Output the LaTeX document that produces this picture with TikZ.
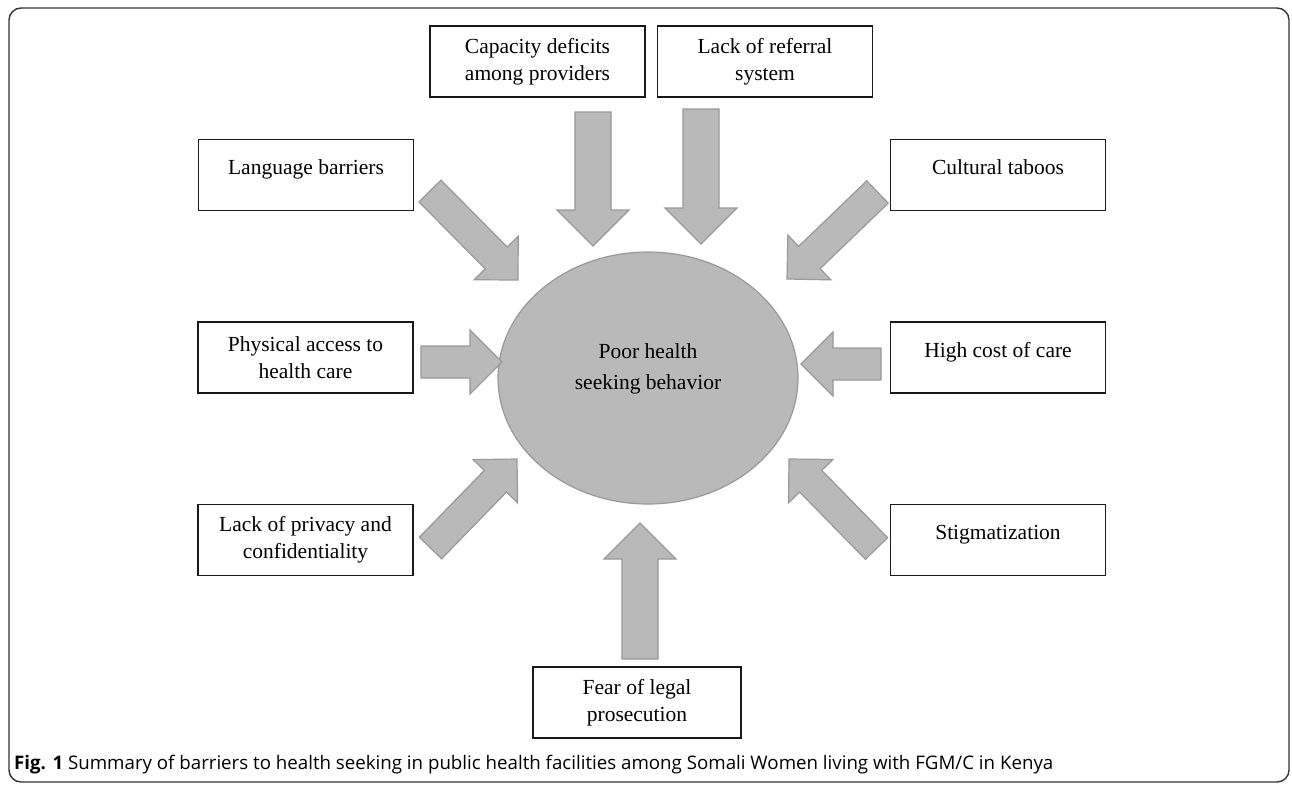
\documentclass[tikz,border=0pt]{standalone}
\usepackage{fontspec}
\setmainfont{Liberation Serif}
\newfontfamily\capfont{Open Sans}
\usetikzlibrary{calc,shapes.geometric}

\definecolor{arrowgray}{RGB}{185,185,185}
\definecolor{edgegray}{RGB}{153,153,153}

\tikzset{
  barrier/.style={draw=black!90, line width=1.5pt, fill=white, minimum width=215pt,
    minimum height=71pt, align=center, inner sep=2pt, font=\fontsize{21.5pt}{27pt}\selectfont},
  oneline/.style={text height=15pt, text depth=16pt},
  bulk/.style={fill=arrowgray, draw=edgegray, line width=1.2pt},
}

\newcommand\blockarrow[3]{%
  \coordinate (#1-s) at ($(#2)!2*#3pt!(#1)$);
  \draw[bulk] ($(#1)!#3pt!90:(#2)$) -- ($(#1-s)!#3pt!-90:(#1)$)
    -- ($(#1-s)!2*#3pt!-90:(#1)$) -- (#2)
    -- ($(#1-s)!2*#3pt!90:(#1)$) -- ($(#1-s)!#3pt!90:(#1)$)
    -- ($(#1)!#3pt!-90:(#2)$) -- cycle;
}

\begin{document}
\begin{tikzpicture}[x=1pt,y=-1pt]
\useasboundingbox (0,0) rectangle (1292,785);
\draw[black!80, line width=1.4pt, rounded corners=12pt] (9,8) rectangle (1289,782);

\node[ellipse, bulk, inner sep=0pt, minimum width=300pt, minimum height=252pt] (poor) at (648,378) {};
\node[align=center, font=\fontsize{21.5pt}{27pt}\selectfont] (poorlabel) at (648,369) {Poor health\\[4pt]seeking behavior};

\node[barrier] (capacity) at (537.5,61.5) {Capacity deficits\\among providers};
\node[barrier] (referral) at (765,61.5) {Lack of referral\\system};
\node[barrier, oneline] (language) at (306,175) {Language barriers};
\node[barrier, oneline] (taboos) at (998,175) {Cultural taboos};
\node[barrier] (access) at (305.5,357.5) {Physical access to\\health care};
\node[barrier, oneline] (cost) at (998,357.5) {High cost of care};
\node[barrier] (privacy) at (305.5,540) {Lack of privacy and\\confidentiality};
\node[barrier, oneline] (stigma) at (998,540) {Stigmatization};
\node[barrier, minimum width=208pt] (legal) at (637,702.5) {Fear of legal\\prosecution};

\coordinate (capT) at (593,112);   \coordinate (capH) at (593,246);
\coordinate (refT) at (701,109);   \coordinate (refH) at (701,244);
\coordinate (legT) at (640,659);   \coordinate (legH) at (640,523);
\coordinate (accT) at (421,362);   \coordinate (accH) at (502,362);
\coordinate (cosT) at (881,364);   \coordinate (cosH) at (801,364);
\coordinate (lanT) at (430,191);   \coordinate (lanH) at (518,280);
\coordinate (tabT) at (877.5,192); \coordinate (tabH) at (787,279);
\coordinate (priT) at (430.5,548); \coordinate (priH) at (517,459);
\coordinate (stiT) at (876.5,548.5); \coordinate (stiH) at (789,459);

\blockarrow{capT}{capH}{18}
\blockarrow{refT}{refH}{18}
\blockarrow{legT}{legH}{18}
\blockarrow{accT}{accH}{16}
\blockarrow{cosT}{cosH}{16}
\blockarrow{lanT}{lanH}{15.5}
\blockarrow{tabT}{tabH}{15.5}
\blockarrow{priT}{priH}{15.5}
\blockarrow{stiT}{stiH}{15.5}

\node[anchor=base west, inner sep=0pt, font=\capfont\fontsize{18.7pt}{21pt}\selectfont] (caption) at (14,769)
  {\textbf{Fig. 1} Summary of barriers to health seeking in public health facilities among Somali Women living with FGM/C in Kenya};
\end{tikzpicture}
\end{document}
